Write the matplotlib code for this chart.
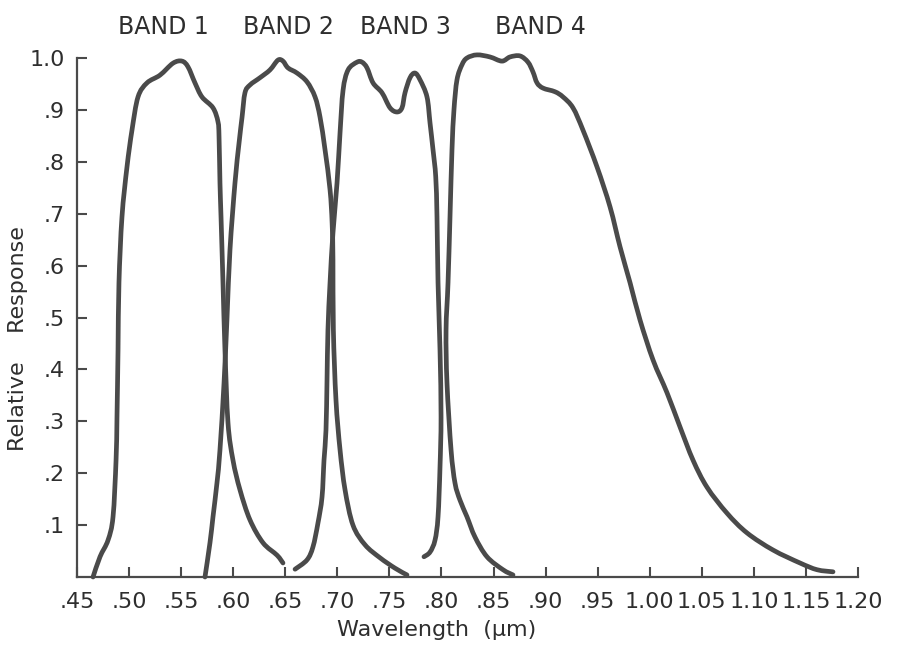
import numpy as np
import matplotlib.pyplot as plt
from matplotlib.path import Path
from matplotlib.patches import PathPatch

# relative response curves

band1_x = [0.4654, 0.4721, 0.4798, 0.4846, 0.4875, 0.4884, 0.4894, 0.4903, 0.4932, 0.4980,
           0.5028, 0.5086, 0.5172, 0.5297, 0.5422, 0.5508, 0.5566, 0.5633, 0.5700, 0.5806,
           0.5854, 0.5864, 0.5873, 0.5883, 0.5902, 0.5921, 0.5950, 0.5998, 0.6065, 0.6161,
           0.6286, 0.6421, 0.6478]
band1_y = [0.000, 0.039, 0.071, 0.116, 0.225, 0.308, 0.437, 0.567, 0.694, 0.790,
           0.861, 0.925, 0.952, 0.967, 0.990, 0.994, 0.983, 0.952, 0.925, 0.904,
           0.877, 0.848, 0.759, 0.694, 0.567, 0.437, 0.297, 0.225, 0.168, 0.110,
           0.066, 0.042, 0.027]

band2_x = [0.5729, 0.5777, 0.5806, 0.5844, 0.5873, 0.5912, 0.5941, 0.5969, 0.6017, 0.6056,
           0.6085, 0.6113, 0.6161, 0.6257, 0.6353, 0.6430, 0.6478, 0.6526, 0.6613, 0.6709,
           0.6786, 0.6834, 0.6882, 0.6930, 0.6950, 0.6958, 0.6962, 0.6987, 0.7026, 0.7074,
           0.7150, 0.7266, 0.7410, 0.7554, 0.7669]
band2_y = [0.000, 0.066, 0.116, 0.181, 0.245, 0.374, 0.501, 0.630, 0.759, 0.836,
           0.886, 0.933, 0.948, 0.962, 0.977, 0.996, 0.994, 0.981, 0.971, 0.954,
           0.925, 0.886, 0.823, 0.746, 0.682, 0.611, 0.476, 0.341, 0.245, 0.168,
           0.100, 0.062, 0.037, 0.017, 0.004]

band3_x = [0.6594, 0.6709, 0.6766, 0.6814, 0.6853, 0.6872, 0.6891, 0.6901, 0.6910, 0.6930,
           0.6958, 0.6997, 0.7026, 0.7055, 0.7103, 0.7189, 0.7237, 0.7285, 0.7343, 0.7429,
           0.7506, 0.7573, 0.7621, 0.7650, 0.7698, 0.7746, 0.7794, 0.7861, 0.7890, 0.7919,
           0.7945, 0.7957, 0.7967, 0.7986, 0.7996, 0.7986, 0.7967, 0.7938, 0.7890, 0.7832]
band3_y = [0.015, 0.033, 0.058, 0.104, 0.154, 0.225, 0.283, 0.380, 0.476, 0.567,
           0.663, 0.759, 0.856, 0.938, 0.977, 0.992, 0.992, 0.981, 0.952, 0.933,
           0.904, 0.896, 0.904, 0.933, 0.962, 0.971, 0.958, 0.925, 0.875, 0.823,
           0.771, 0.694, 0.567, 0.437, 0.308, 0.212, 0.116, 0.071, 0.048, 0.039]

band4_x = [0.8687, 0.8591, 0.8437, 0.8322, 0.8245, 0.8178, 0.8130, 0.8092, 0.8053, 0.8044,
           0.8063, 0.8082, 0.8101, 0.8120, 0.8149, 0.8197, 0.8245, 0.8341, 0.8466, 0.8581,
           0.8658, 0.8754, 0.8831, 0.8879, 0.8918, 0.8975, 0.9090, 0.9167, 0.9263, 0.9359,
           0.9494, 0.9619, 0.9715, 0.9811, 0.9907, 1.0032, 1.0166, 1.0291, 1.0416, 1.0550,
           1.0742, 1.0934, 1.1184, 1.1443, 1.1607, 1.1760]
band4_y = [0.004, 0.014, 0.039, 0.077, 0.116, 0.148, 0.181, 0.245, 0.374, 0.476,
           0.567, 0.694, 0.823, 0.900, 0.958, 0.987, 1.000, 1.006, 1.002, 0.994,
           1.002, 1.004, 0.992, 0.973, 0.952, 0.942, 0.935, 0.925, 0.904, 0.861,
           0.790, 0.713, 0.636, 0.567, 0.495, 0.418, 0.355, 0.289, 0.225, 0.173,
           0.123, 0.085, 0.052, 0.027, 0.014, 0.010]

band_names = ["BAND 1", "BAND 2", "BAND 3", "BAND 4"]

xticks = [0.45, 0.50, 0.55, 0.60, 0.65, 0.70, 0.75, 0.80, 0.85, 0.90, 0.95,
          1.00, 1.05, 1.10, 1.15, 1.20]
xlabels = [".45", ".50", ".55", ".60", ".65", ".70", ".75", ".80", ".85", ".90", ".95",
           "1.00", "1.05", "1.10", "1.15", "1.20"]
yticks = [0.1, 0.2, 0.3, 0.4, 0.5, 0.6, 0.7, 0.8, 0.9, 1.0]
ylabels = [".1", ".2", ".3", ".4", ".5", ".6", ".7", ".8", ".9", "1.0"]

# layout
label_x = [0.533, 0.6526, 0.765, 0.8946]
label_y = 1.06
line_col = "#4a4a4a"
text_col = "#2e2e2e"


def curve(xs, ys):
    # smooth bezier through the read points (catmull-rom)
    p = np.column_stack([xs, ys])
    n = len(p)
    verts = [p[0]]
    codes = [Path.MOVETO]
    for i in range(n - 1):
        p0 = p[i - 1] if i > 0 else p[i]
        p1 = p[i]
        p2 = p[i + 1]
        p3 = p[i + 2] if i + 2 < n else p[i + 1]
        verts += [p1 + (p2 - p0) / 6, p2 - (p3 - p1) / 6, p2]
        codes += [Path.CURVE4] * 3
    return Path(verts, codes)


plt.rcParams['font.family'] = ['DejaVu Sans']

fig = plt.figure(figsize=(9.01, 6.56), dpi=100)
ax = fig.add_axes([77/901, 79/656, 781/901, 519/656])

for bx, by in [(band1_x, band1_y), (band2_x, band2_y), (band3_x, band3_y), (band4_x, band4_y)]:
    ax.add_patch(PathPatch(curve(bx, by), fill=False, ec=line_col, lw=3.4,
                           joinstyle='round', capstyle='round', clip_on=False))

for name, lx in zip(band_names, label_x):
    ax.text(lx, label_y, name, ha='center', va='center', fontsize=17, color=text_col)

ax.set_xlim(0.45, 1.20)
ax.set_ylim(0, 1.0)

ax.set_xticks(xticks)
ax.set_xticklabels(xlabels)
ax.set_yticks(yticks)
ax.set_yticklabels(ylabels)

ax.tick_params(direction='in', length=7, width=1.5, colors=line_col,
               labelsize=16, labelcolor=text_col)
ax.tick_params(axis='x', pad=11)
ax.tick_params(axis='y', pad=9)

for s in ['top', 'right']:
    ax.spines[s].set_visible(False)
for s in ['left', 'bottom']:
    ax.spines[s].set_linewidth(1.6)
    ax.spines[s].set_color(line_col)

ax.set_xlabel("Wavelength  (\u03bcm)", fontsize=16, color=text_col)
ax.xaxis.set_label_coords(0.461, -0.083)
ax.set_ylabel("Relative    Response", fontsize=16, color=text_col)
ax.yaxis.set_label_coords(-0.063, 0.46)

fig.savefig("out.png", dpi=100)
